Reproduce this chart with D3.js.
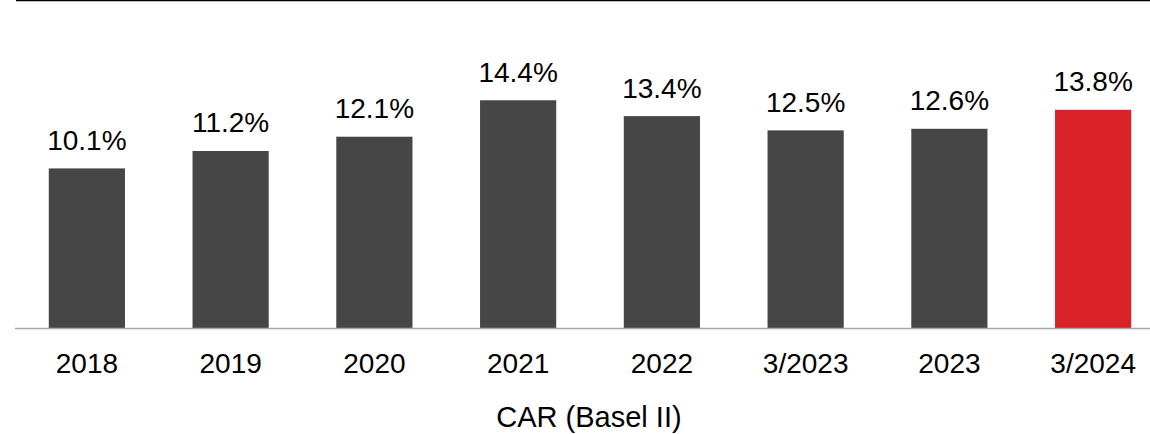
<!DOCTYPE html>
<html><head><meta charset="utf-8">
<script src="https://cdn.jsdelivr.net/npm/d3@7"></script>
<style>body{margin:0;background:#fff}svg{display:block}</style>
</head><body>
<script>
const categories = ["2018","2019","2020","2021","2022","3/2023","2023","3/2024"];
const values = [10.1, 11.2, 12.1, 14.4, 13.4, 12.5, 12.6, 13.8];
const labels = ["10.1%","11.2%","12.1%","14.4%","13.4%","12.5%","12.6%","13.8%"];
const highlight = ["3/2024"];
const title = "CAR (Basel II)";

const W = 1150, H = 434;
const svg = d3.select("body").append("svg").attr("width", W).attr("height", H);
const font = "Arial, 'Liberation Sans', sans-serif";

const x = d3.scaleBand().domain(categories).range([15, 1165]).paddingInner(0.47).paddingOuter(0.235);
const y = d3.scaleLinear().domain([0, 10]).range([328.5, 170]);

svg.append("line").attr("x1", 16).attr("x2", W).attr("y1", 0.6).attr("y2", 0.6)
  .attr("stroke", "#000").attr("stroke-width", 1.4);

svg.selectAll("rect.bar").data(categories).join("rect").attr("class","bar")
  .attr("x", d => x(d)).attr("width", x.bandwidth())
  .attr("y", (d,i) => y(values[i])).attr("height", (d,i) => y(0) - y(values[i]))
  .attr("fill", d => highlight.includes(d) ? "#d92128" : "#464646");

svg.append("line").attr("x1", 15).attr("x2", W).attr("y1", y(0)).attr("y2", y(0))
  .attr("stroke", "#a6a6a6").attr("stroke-width", 1.5);

svg.selectAll("text.val").data(categories).join("text").attr("class","val")
  .attr("x", d => x(d) + x.bandwidth()/2).attr("y", (d,i) => y(values[i]) - 18.5)
  .attr("text-anchor","middle").attr("font-family", font).attr("font-size", 28)
  .attr("fill","#000").text((d,i) => labels[i]);

const ax = svg.append("g").attr("transform", `translate(0,${y(0)})`)
  .call(d3.axisBottom(x).tickSize(0).tickPadding(0));
ax.select(".domain").remove();
ax.selectAll("text").attr("font-family", font).attr("font-size", 28).attr("fill","#000")
  .attr("dy", null).attr("y", 44);

svg.append("text").attr("x", 589).attr("y", 427).attr("text-anchor","middle")
  .attr("font-family", font).attr("font-size", 29).attr("fill","#000").text(title);
</script>
</body></html>
